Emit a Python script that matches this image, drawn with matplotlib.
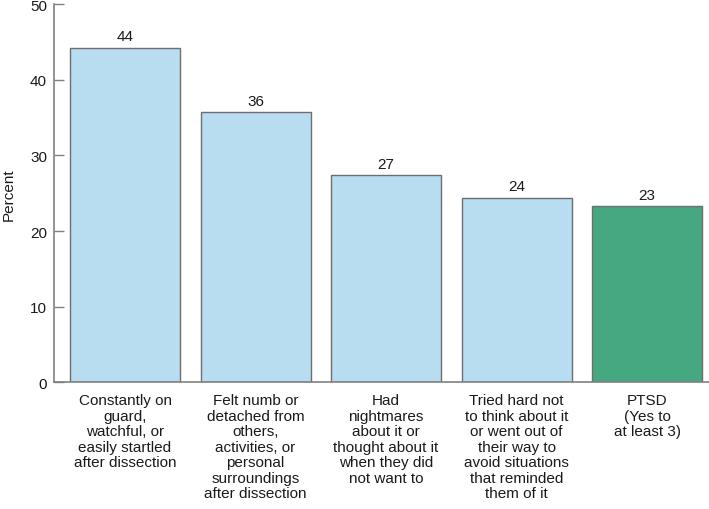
import matplotlib
matplotlib.use("Agg")
import matplotlib.pyplot as plt

categories = [
    "Constantly on\nguard,\nwatchful, or\neasily startled\nafter dissection",
    "Felt numb or\ndetached from\nothers,\nactivities, or\npersonal\nsurroundings\nafter dissection",
    "Had\nnightmares\nabout it or\nthought about it\nwhen they did\nnot want to",
    "Tried hard not\nto think about it\nor went out of\ntheir way to\navoid situations\nthat reminded\nthem of it",
    "PTSD\n(Yes to\nat least 3)",
]
values = [44.2, 35.7, 27.4, 24.4, 23.3]
bar_colors = ["#b8dcf0", "#b8dcf0", "#b8dcf0", "#b8dcf0", "#45a880"]
yticks = [0, 10, 20, 30, 40, 50]

plt.rcParams['font.family'] = ["Liberation Sans", "DejaVu Sans"]
fs = 11

fig = plt.figure(figsize=(7.09, 5.10), dpi=100)
ax = fig.add_axes([0.0762, 0.2484, 0.9238, 0.7416])

x = list(range(len(values)))
ax.bar(x, values, width=0.843, color=bar_colors, edgecolor="#6e6e6e", linewidth=1.0)
for xi, v in zip(x, values):
    ax.text(xi, v + 0.6, f"{v:.0f}", ha="center", va="bottom", fontsize=fs, color="#1a1a1a")

ax.set_xlim(-0.544, 4.475)
ax.set_ylim(0, 50)
ax.set_yticks(yticks)
ax.set_yticklabels([str(t) for t in yticks], fontsize=fs, color="#1a1a1a")
ax.set_xticks(x)
ax.set_xticklabels(categories, fontsize=fs, color="#1a1a1a", linespacing=1.13, va="top")
ax.tick_params(axis="x", length=0, pad=8)
ax.tick_params(axis="y", direction="in", length=7, width=1.0, color="#808080", pad=5)
ax.set_ylabel("Percent", fontsize=fs, color="#1a1a1a", labelpad=10)

for s in ["top", "right"]:
    ax.spines[s].set_visible(False)
for s in ["left", "bottom"]:
    ax.spines[s].set_color("#808080")
    ax.spines[s].set_linewidth(1.2)

fig.savefig("out.png", dpi=100)
